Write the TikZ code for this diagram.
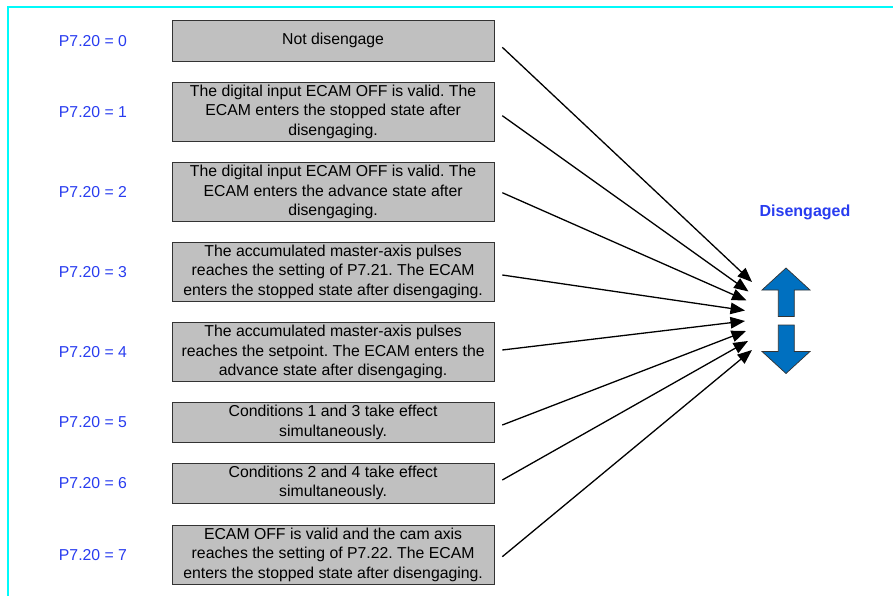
\documentclass[tikz,border=0pt]{standalone}
\usepackage{fontspec}
\setmainfont{Liberation Sans}
\usetikzlibrary{arrows.meta}
\frenchspacing
\definecolor{lblue}{RGB}{40,60,240}
\definecolor{boxgray}{RGB}{192,192,192}
\definecolor{arrblue}{RGB}{0,112,192}
\definecolor{frame}{RGB}{0,250,250}
\tikzset{
  cond/.style={draw=black!80, line width=0.9pt, fill=boxgray, minimum width=321.7pt, inner sep=0pt, align=center,
    font=\frenchspacing\fontsize{15.8}{19.5}\selectfont},
  lbl/.style={text=lblue, font=\fontsize{15.8}{19}\selectfont, inner sep=0pt},
  conn/.style={line width=1.3pt, -{Triangle[length=14.5pt,width=11.5pt]}},
  bigarrow/.style={fill=arrblue, draw=black!80, line width=0.7pt, line join=miter}
}
\begin{document}
\begin{tikzpicture}[x=1pt,y=-1pt]
\useasboundingbox (0,0) rectangle (893,596);
\fill[white] (0,0) rectangle (893,596);
% frame
\draw[frame, line width=2pt] (8,596) -- (8,7.5) -- (893,7.5);

% condition boxes
\node[cond, minimum height=40.5pt] (b0) at (333.1,40.75) {Not disengage};
\node[cond, minimum height=58.5pt] (b1) at (333.1,111.75) {The digital input ECAM OFF is valid. The\\ECAM enters the stopped state after\\disengaging.};
\node[cond, minimum height=59pt] (b2) at (333.1,192) {The digital input ECAM OFF is valid. The\\ECAM enters the advance state after\\disengaging.};
\node[cond, minimum height=58.5pt] (b3) at (333.1,271.75) {The accumulated master-axis pulses\\reaches the setting of P7.21. The ECAM\\enters the stopped state after disengaging.};
\node[cond, minimum height=59pt] (b4) at (333.1,352) {The accumulated master-axis pulses\\reaches the setpoint. The ECAM enters the\\advance state after disengaging.};
\node[cond, minimum height=39.5pt] (b5) at (333.1,422.25) {Conditions 1 and 3 take effect\\simultaneously.};
\node[cond, minimum height=40pt] (b6) at (333.1,483) {Conditions 2 and 4 take effect\\simultaneously.};
\node[cond, minimum height=59pt] (b7) at (333.1,554.5) {ECAM OFF is valid and the cam axis\\reaches the setting of P7.22. The ECAM\\enters the stopped state after disengaging.};

% labels
\node[lbl] (l0) at (93,41.5) {P7.20 = 0};
\node[lbl] (l1) at (93,112) {P7.20 = 1};
\node[lbl] (l2) at (93,192) {P7.20 = 2};
\node[lbl] (l3) at (93,272) {P7.20 = 3};
\node[lbl] (l4) at (93,352) {P7.20 = 4};
\node[lbl] (l5) at (93,422.5) {P7.20 = 5};
\node[lbl] (l6) at (93,483.5) {P7.20 = 6};
\node[lbl] (l7) at (93,555) {P7.20 = 7};

% connector start and end points
\coordinate (s0) at (502.3,47.3);
\coordinate (s1) at (502.3,115.7);
\coordinate (s2) at (502.3,192.7);
\coordinate (s3) at (502.3,275);
\coordinate (s4) at (502.3,350);
\coordinate (s5) at (502.3,425);
\coordinate (s6) at (502.3,480);
\coordinate (s7) at (502.3,556.7);
\coordinate (t0) at (752,282);
\coordinate (t1) at (748.5,291.5);
\coordinate (t2) at (746.5,300.5);
\coordinate (t3) at (745,310.5);
\coordinate (t4) at (745,321);
\coordinate (t5) at (746,331);
\coordinate (t6) at (748,341);
\coordinate (t7) at (752,350);
\foreach \i in {0,...,7} \draw[conn] (s\i) -- (t\i);

% disengaged arrows
\draw[bigarrow] (786,268) -- (810,290) -- (794.3,290) -- (794.3,316.5) -- (778.3,316.5) -- (778.3,290) -- (762,290) -- cycle;
\draw[bigarrow] (778.3,325) -- (794.3,325) -- (794.3,351.5) -- (810,351.5) -- (786,373.5) -- (762,351.5) -- (778.3,351.5) -- cycle;
\node[text=lblue, font=\fontsize{16}{19}\selectfont\bfseries, inner sep=0pt] (dis) at (805,212) {Disengaged};
\end{tikzpicture}
\end{document}
